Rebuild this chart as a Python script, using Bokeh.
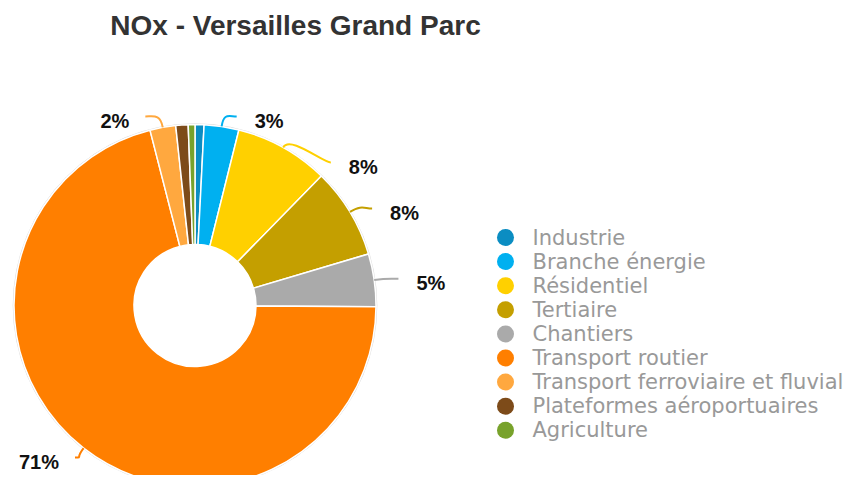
import numpy as np
from bokeh.plotting import figure
from bokeh.models import Range1d, ColumnDataSource
from bokeh.embed import file_html
from bokeh.resources import INLINE
from bokeh.core.properties import value

# ---------------- data ----------------
title = "NOx - Versailles Grand Parc"
categories = ["Industrie", "Branche énergie", "Résidentiel", "Tertiaire", "Chantiers",
              "Transport routier", "Transport ferroviaire et fluvial",
              "Plateformes aéroportuaires", "Agriculture"]
shares = [0.8, 3.1, 8.4, 8.1, 4.7, 70.9, 2.3, 1.1, 0.6]
colors = ["#0b8dc2", "#00b0f0", "#ffd000", "#c49f00", "#aaaaaa",
          "#ff7f00", "#ffa83f", "#7d4b19", "#78a22b"]

# ---------------- layout (reference pixel space) ----------------
W, H = 855, 475
REF_H = 483
CX, CY, R, RIN = 194.5, 305.0, 181.0, 61.0
DIST, TOP, BOTTOM, GAP = 30.0, 120.0, 461.0, 46.0
EA, EB = 223.0, 192.0


def Y(yref):
    return REF_H - np.asarray(yref, dtype=float)


p = figure(width=W, height=H, x_range=Range1d(0, W),
           y_range=Range1d(REF_H - H, REF_H),
           output_backend="svg", toolbar_location=None,
           x_axis_type=None, y_axis_type=None, min_border=0)
p.outline_line_color = None
p.background_fill_color = "white"
p.border_fill_color = "white"

vals = np.array(shares, dtype=float)
frac = vals / vals.sum()
c1 = np.cumsum(frac)
c0 = c1 - frac
start = np.pi / 2 - 2 * np.pi * c1
end = np.pi / 2 - 2 * np.pi * c0

# faint outer edge
p.circle(x=[CX], y=Y([CY]), radius=R + 0.8, fill_color=None,
         line_color="#dcdcdc", line_width=1)

src = ColumnDataSource(dict(start=start, end=end, color=colors, cat=categories))
p.annular_wedge(x=CX, y=float(Y(CY)), inner_radius=RIN, outer_radius=R,
                start_angle="start", end_angle="end", fill_color="color",
                line_color="white", line_width=1.5, source=src)

# ---------------- data labels ----------------
pct = np.round(frac * 100).astype(int)
show = [i for i in range(len(vals)) if pct[i] >= 2]
mid = (c0 + c1) / 2 * 2 * np.pi
nat_y = CY - (R + DIST) * np.cos(mid) + 7
is_right = np.sin(mid) > 0

lab_y = {}
for side in (True, False):
    idx = sorted([i for i in show if is_right[i] == side], key=lambda i: nat_y[i])
    prev = -1e9
    for i in idx:
        y = max(nat_y[i], TOP, prev + GAP)
        y = min(y, BOTTOM)
        lab_y[i] = y
        prev = y

rx, ry, rt, lx, ly, lt = [], [], [], [], [], []
bx0, by0, bx1, by1, bcx0, bcy0, bcx1, bcy1, bcol = [], [], [], [], [], [], [], [], []
for i in show:
    y = lab_y[i]
    dy = y - CY
    dx = EA * np.sqrt(max(0.0, 1 - (dy / EB) ** 2))
    ex, ey = CX + R * np.sin(mid[i]), CY - R * np.cos(mid[i])
    kx, ky = CX + (R + 14) * np.sin(mid[i]), CY - (R + 14) * np.cos(mid[i])
    if is_right[i]:
        tx = CX + dx
        rx.append(tx); ry.append(y); rt.append(f"{pct[i]}%")
        qx = tx - 18
        c2x = qx - 8
    else:
        tx = CX - dx - 6
        lx.append(tx); ly.append(y); lt.append(f"{pct[i]}%")
        qx = tx + 16
        c2x = qx + 8
    qy = y - 4
    bx0.append(ex); by0.append(ey); bx1.append(qx); by1.append(qy)
    bcx0.append(kx); bcy0.append(ky); bcx1.append(c2x); bcy1.append(qy)
    bcol.append(colors[i])

p.bezier(x0=bx0, y0=Y(by0), x1=bx1, y1=Y(by1), cx0=bcx0, cy0=Y(bcy0),
         cx1=bcx1, cy1=Y(bcy1), line_color=bcol, line_width=2)

lab_style = dict(text_font=value("Liberation Sans"), text_font_style="bold",
                 text_font_size="20px", text_color="#111111", text_baseline="middle")
p.text(x=rx, y=Y(ry), text=rt, text_align="left", **lab_style)
p.text(x=lx, y=Y(ly), text=lt, text_align="right", **lab_style)

# ---------------- legend ----------------
LEG_X, LEG_TX, LEG_Y0, LEG_DY = 505.0, 532.0, 237.0, 24.1
leg_y = LEG_Y0 + LEG_DY * np.arange(len(categories))
p.scatter(x=[LEG_X] * len(categories), y=Y(leg_y), size=17, fill_color=colors,
          line_color=None)
p.text(x=[LEG_TX] * len(categories), y=Y(leg_y), text=categories,
       text_font=value("DejaVu Sans"), text_font_size="21px", text_color="#999999",
       text_align="left", text_baseline="middle")

# ---------------- title ----------------
p.text(x=[295.0], y=Y([25.0]), text=[title], text_font=value("Liberation Sans"),
       text_font_style="bold", text_font_size="28px", text_color="#333333",
       text_align="center", text_baseline="middle")

open("out.html", "w").write(file_html(p, INLINE))
